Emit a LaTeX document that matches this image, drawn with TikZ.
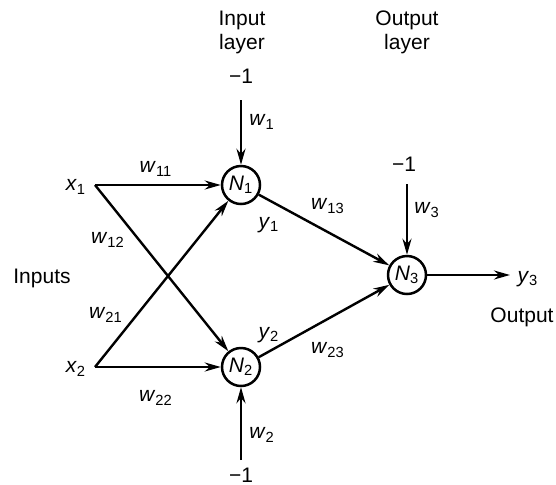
\documentclass[tikz,border=0pt]{standalone}
\usepackage{fontspec}
\setmainfont{Liberation Sans}
\usetikzlibrary{arrows.meta}
\newcommand{\myvar}[2]{\textit{#1}\textsubscript{#2}}
\begin{document}
\begin{tikzpicture}[x=0.5pt,y=-0.5pt,
  neuron/.style={circle,draw,line width=1.25pt,minimum size=19pt,inner sep=0pt,font=\fontsize{10.5}{12}\selectfont},
  lbl/.style={inner sep=0pt,font=\fontsize{10.5}{12}\selectfont,align=center},
  conn/.style={line width=1.2pt,-{Stealth[length=8pt,width=4.5pt]}},
  plainline/.style={line width=1.2pt}]
\useasboundingbox (0,0) rectangle (556,484);
% neurons
\node[neuron] (N1) at (241,185) {\myvar{N}{1}};
\node[neuron] (N2) at (241,367) {\myvar{N}{2}};
\node[neuron] (N3) at (407,275) {\myvar{N}{3}};
% headings
\node[lbl] (hin) at (242,32) {Input\\layer};
\node[lbl] (hout) at (407,32) {Output\\layer};
\node[lbl] (inputs) at (42,278) {Inputs};
\node[lbl] (output) at (522,317) {Output};
% inputs
\node[lbl] (x1) at (76,187) {\myvar{x}{1}};
\node[lbl] (x2) at (76,369) {\myvar{x}{2}};
\coordinate (x1s) at (95,185);
\coordinate (x2s) at (95,367);
% biases
\node[lbl] (b1) at (241,76) {−1};
\node[lbl] (b2) at (241,475) {−1};
\node[lbl] (b3) at (404,164) {−1};
\coordinate (b1s) at (241,100);
\coordinate (b2s) at (241,460);
\coordinate (b3s) at (407,184);
% output end
\coordinate (y3e) at (510,275);
\node[lbl] (y3) at (528,279) {\myvar{y}{3}};
% connectors
\draw[conn] (x1s) -- (N1);
\draw[conn] (x1s) -- (N2);
\draw[conn] (x2s) -- (N1);
\draw[conn] (x2s) -- (N2);
\draw[conn] (N1) -- (N3);
\draw[conn] (N2) -- (N3);
\draw[conn] (N3) -- (y3e);
\draw[conn] (b1s) -- (N1);
\draw[conn] (b2s) -- (N2);
\draw[conn] (b3s) -- (N3);
% weight labels
\node[lbl] (w11) at (156,169) {\myvar{w}{11}};
\node[lbl] (w12) at (108,240) {\myvar{w}{12}};
\node[lbl] (w21) at (106,315) {\myvar{w}{21}};
\node[lbl] (w22) at (156,398) {\myvar{w}{22}};
\node[lbl] (w13) at (328,206) {\myvar{w}{13}};
\node[lbl] (w23) at (328,350) {\myvar{w}{23}};
\node[lbl] (w1) at (262,122) {\myvar{w}{1}};
\node[lbl] (w2) at (262,435) {\myvar{w}{2}};
\node[lbl] (w3) at (427,210) {\myvar{w}{3}};
\node[lbl] (y1) at (269,225) {\myvar{y}{1}};
\node[lbl] (y2) at (269,335) {\myvar{y}{2}};
\end{tikzpicture}
\end{document}
